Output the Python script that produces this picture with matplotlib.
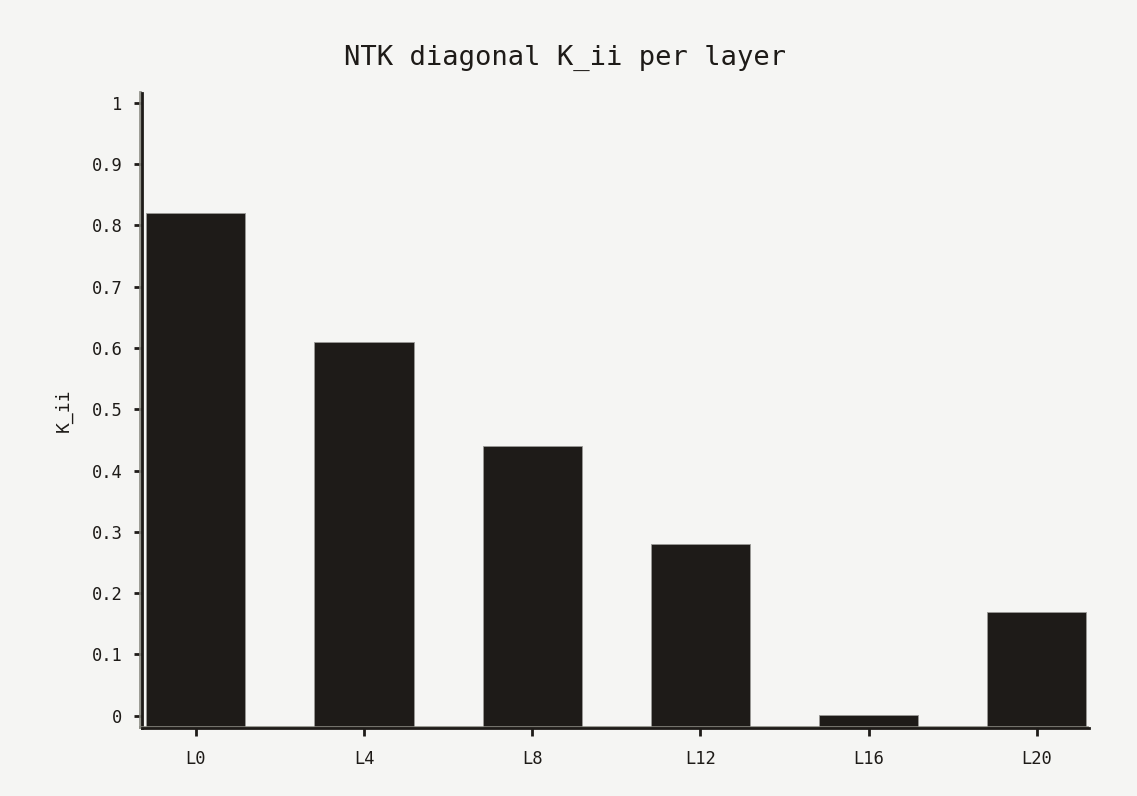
import matplotlib
matplotlib.use("Agg")
import matplotlib.pyplot as plt
import matplotlib.patheffects as pe

layers = ["L0", "L4", "L8", "L12", "L16", "L20"]
kii = [0.82, 0.61, 0.44, 0.28, 0.002, 0.17]
yticks = [0, 0.1, 0.2, 0.3, 0.4, 0.5, 0.6, 0.7, 0.8, 0.9, 1]
ytick_labels = ["0", "0.1", "0.2", "0.3", "0.4", "0.5", "0.6", "0.7", "0.8", "0.9", "1"]

bg = "#f5f5f3"
ink = "#1e1b18"
plt.rcParams['font.family'] = ['DejaVu Sans Mono']
fig = plt.figure(figsize=(11.37, 7.96), dpi=100, facecolor=bg)
ax = fig.add_axes([0.1249, 0.0854, 0.8329, 0.7978], facecolor=bg)

ymin = -0.02
x = list(range(len(layers)))
ax.bar(x, [v - ymin for v in kii], bottom=ymin, width=0.59, color=ink,
       edgecolor="#9a9a96", linewidth=0.6, zorder=2)
ax.set_xlim(-0.32, 5.31)
ax.set_ylim(ymin, 1.016)
ax.set_xticks(x)
ax.set_xticklabels(layers, family="DejaVu Sans Mono", fontsize=12.3, color=ink)
ax.set_yticks(yticks)
ax.set_yticklabels(ytick_labels, family="DejaVu Sans Mono", fontsize=12.3, color=ink)
ax.tick_params(axis="both", length=6, width=2, color=ink, pad=8)
ax.tick_params(axis="x", pad=10)
for s in ["top", "right"]:
    ax.spines[s].set_visible(False)
for s in ["left", "bottom"]:
    ax.spines[s].set_linewidth(2)
    ax.spines[s].set_color(ink)
    ax.spines[s].set_path_effects([pe.SimpleLineShadow(offset=(-1.2, 1.0), shadow_color="#888880", alpha=0.9), pe.Normal()])
ax.set_ylabel("K_ii", family="DejaVu Sans Mono", fontsize=13, color=ink, labelpad=14)
fig.text(0.497, 0.927, "NTK diagonal K_ii per layer", family="DejaVu Sans Mono",
         fontsize=19.5, color=ink, ha="center", va="center")
fig.savefig("out.png", dpi=100, facecolor=bg)
